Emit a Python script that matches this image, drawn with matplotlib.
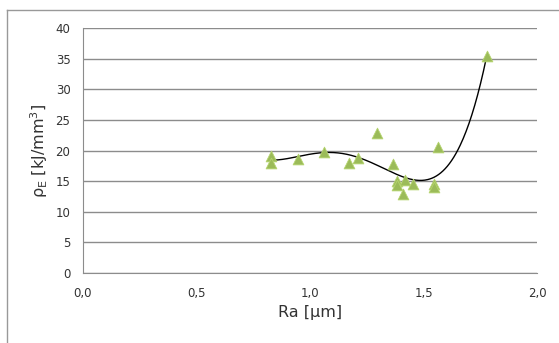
import numpy as np
import matplotlib.pyplot as plt
from matplotlib.lines import Line2D

# data
ra = [0.827, 0.827, 0.948, 1.062, 1.172, 1.213, 1.294, 1.367, 1.382, 1.382,
      1.419, 1.408, 1.452, 1.545, 1.545, 1.562, 1.78]
rho = [19.1, 18.0, 18.6, 19.75, 17.9, 18.8, 22.8, 17.8, 15.0, 14.4,
       15.2, 12.85, 14.6, 14.6, 14.0, 20.5, 35.4]
xticks = [0.0, 0.5, 1.0, 1.5, 2.0]
yticks = [0, 5, 10, 15, 20, 25, 30, 35, 40]

fig = plt.figure(figsize=(5.59, 3.43), dpi=100)
ax = fig.add_axes([83/559, 70/343, 454/559, 245/343])

# polynomial trend line (like excel)
p = np.polyfit(ra, rho, 4)
xs = np.linspace(min(ra), max(ra), 300)
ax.plot(xs, np.polyval(p, xs), color='black', lw=1.0, zorder=3)
ax.scatter(ra, rho, marker='^', s=60, color='#9BBB59', edgecolors='#B5D46E',
           linewidths=0.6, zorder=4)

ax.set_xlim(0, 2.0)
ax.set_ylim(0, 40)
ax.set_xticks(xticks)
ax.set_xticklabels([('%.1f' % t).replace('.', ',') for t in xticks])
ax.set_yticks(yticks)
ax.grid(axis='y', color='#8c8c8c', lw=1.0)
ax.set_axisbelow(True)
for s in ['top', 'right']:
    ax.spines[s].set_visible(False)
for s in ['left', 'bottom']:
    ax.spines[s].set_color('#8c8c8c')
ax.tick_params(length=0, labelsize=8.5, colors='#333333', pad=9)
ax.tick_params(axis='x', pad=10)
ax.set_xlabel('Ra [µm]', fontsize=11.5, color='#333333', labelpad=4)
ax.set_ylabel(r'ρ$_\mathregular{E}$ [kJ/mm$^\mathregular{3}$]', fontsize=11.5,
              color='#333333', labelpad=4)

# outer chart frame (only left and top visible)
fig.add_artist(Line2D([7/559, 7/559], [0, 1 - 10/343], transform=fig.transFigure,
                      color='#999999', lw=1.0))
fig.add_artist(Line2D([7/559, 1], [1 - 10/343, 1 - 10/343], transform=fig.transFigure,
                      color='#999999', lw=1.0))
fig.savefig('out.png', dpi=100)
